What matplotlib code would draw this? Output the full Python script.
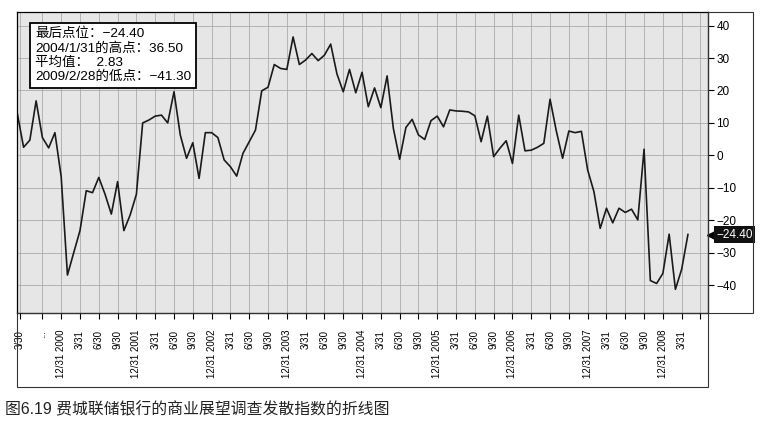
import matplotlib
matplotlib.use('Agg')
import matplotlib.pyplot as plt
import matplotlib.transforms as mtransforms
from matplotlib.patches import Rectangle

plt.rcParams['font.family'] = ['Liberation Sans', 'Noto Sans CJK SC', 'DejaVu Sans']

# monthly index values, May 2000 .. Apr 2009
values = [
    12.9, 2.5, 4.7, 16.8, 5.5, 2.3, 7.0, -6.6,
    -36.9, -30.0, -23.2, -10.9, -11.5, -6.8, -12.0, -18.1, -8.1, -23.2, -18.4, -12.0,
    10.0, 10.9, 12.1, 12.4, 10.0, 19.6, 6.3, -0.9, 3.9, -7.1, 7.0, 7.0,
    5.5, -1.4, -3.5, -6.4, 0.6, 4.2, 7.8, 19.9, 21.0, 28.0, 26.8, 26.5,
    36.5, 28.0, 29.4, 31.4, 29.2, 30.9, 34.3, 25.1, 19.6, 26.5, 19.3, 25.6,
    15.0, 20.8, 14.7, 24.5, 8.3, -1.2, 8.6, 11.1, 6.3, 4.9, 10.7, 12.1,
    8.8, 14.0, 13.7, 13.6, 13.4, 12.2, 4.2, 12.1, -0.4, 2.2, 4.5, -2.5,
    12.4, 1.4, 1.6, 2.5, 3.7, 17.3, 7.5, -0.9, 7.5, 7.0, 7.4, -4.5,
    -11.2, -22.5, -16.3, -20.8, -16.3, -17.6, -16.6, -19.9, 1.9, -38.6, -39.5, -36.4,
    -24.3, -41.3, -35.1, -24.4,
]

tick_pos = [0.43, 3.9] + [7 + 3 * i for i in range(35)]
tick_labels = ['3/30', '...',
               '12/31 2000', '3/31', '6/30', '9/30',
               '12/31 2001', '3/31', '6/30', '9/30',
               '12/31 2002', '3/31', '6/30', '9/30',
               '12/31 2003', '3/31', '6/30', '9/30',
               '12/31 2004', '3/31', '6/30', '9/30',
               '12/31 2005', '3/31', '6/30', '9/30',
               '12/31 2006', '3/31', '6/30', '9/30',
               '12/31 2007', '3/31', '6/30', '9/30',
               '12/31 2008', '3/31', '']

info_text = ('最后点位：−24.40\n'
             '2004/1/31的高点：36.50\n'
             '平均值：  2.83\n'
             '2009/2/28的低点：−41.30')
caption = '图6.19 费城联储银行的商业展望调查发散指数的折线图'

W, H = 779, 426
fig = plt.figure(figsize=(W / 100, H / 100), dpi=100)
ax = fig.add_axes([17 / W, 1 - 313 / H, 691 / W, 301 / H])
ax.set_facecolor('#e6e6e6')

ax.plot(range(len(values)), values, color='#1a1a1a', lw=1.2)

ax.set_xlim(-0.05, 110.2)
ax.set_ylim(-48.6, 44.2)
ax.set_yticks(range(-40, 41, 10))
ax.set_xticks(tick_pos)
ax.set_xticklabels(tick_labels, rotation=90, va='top', ha='center', fontsize=7)
ax.yaxis.tick_right()
ax.tick_params(axis='y', direction='out', length=4, pad=2, labelsize=8.5, width=0.8)
ax.tick_params(axis='x', direction='out', length=4, pad=8, width=0.8)
ax.grid(True, color='#ababab', lw=0.6)
ax.set_axisbelow(True)
for s in ax.spines.values():
    s.set_linewidth(0.9)

# info box
ax.text(0.026, 0.948, info_text, transform=ax.transAxes, va='top', ha='left',
        fontsize=9.7, linespacing=1.2,
        bbox=dict(boxstyle='square,pad=0.35', fc='white', ec='black', lw=1.3))

# last value tag
trans = mtransforms.blended_transform_factory(ax.transAxes, ax.transData)
last = values[-1]
ax.plot([1.005], [last], marker='<', color='black', ms=6, transform=trans, clip_on=False)
ax.text(1.012, last, '−%.2f' % abs(last), transform=trans, va='center', ha='left',
        color='white', fontsize=8.5,
        bbox=dict(boxstyle='square,pad=0.18', fc='#111111', ec='none'))

# outer panels
fig.add_artist(Rectangle((708 / W, 1 - 313 / H), 45 / W, 301 / H, fill=False,
                         ec='#333333', lw=0.8, transform=fig.transFigure))
fig.add_artist(Rectangle((17 / W, 1 - 387 / H), 691 / W, 74 / H, fill=False,
                         ec='#333333', lw=0.8, transform=fig.transFigure))

fig.text(5 / W, 1 - 410 / H, caption, fontsize=11.4, va='center', ha='left',
         color='#222222')

fig.savefig('out.png', dpi=100)
